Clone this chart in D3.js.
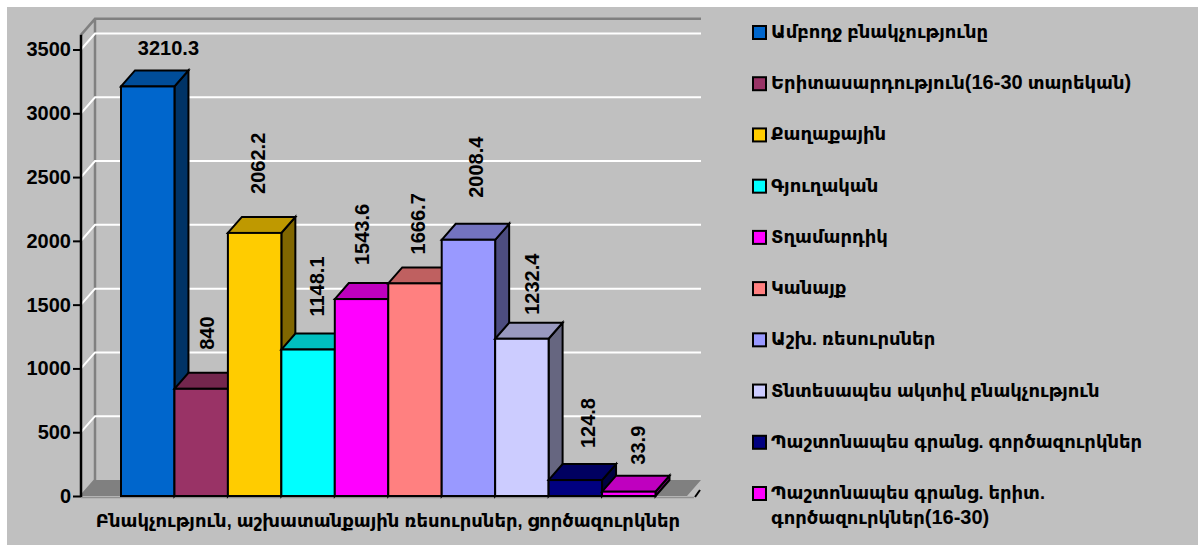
<!DOCTYPE html>
<html>
<head>
<meta charset="utf-8">
<script src="https://cdn.jsdelivr.net/npm/d3@7"></script>
<style>
  html,body{margin:0;padding:0;background:#fff;}
  svg{display:block;}
  text{font-family:"Liberation Sans","DejaVu Sans",sans-serif;font-weight:bold;fill:#000;}
</style>
</head>
<body>
<svg id="chart" width="1198" height="545"></svg>
<script>
const categories = ['Ամբողջ բնակչությունը','Երիտասարդություն(16-30 տարեկան)','Քաղաքային','Գյուղական','Տղամարդիկ','Կանայք','Աշխ. ռեսուրսներ','Տնտեսապես ակտիվ բնակչություն','Պաշտոնապես գրանց. գործազուրկներ','Պաշտոնապես գրանց. երիտ. գործազուրկներ(16-30)'];
const values = [3210.3,840,2062.2,1148.1,1543.6,1666.7,2008.4,1232.4,124.8,33.9];
const valueLabels = ['3210.3','840','2062.2','1148.1','1543.6','1666.7','2008.4','1232.4','124.8','33.9'];
const colors = ['#0066cc','#993366','#ffcc00','#00ffff','#ff00ff','#ff8080','#9999ff','#ccccff','#000080','#ff00ff'];
const tickValues = [0,500,1000,1500,2000,2500,3000,3500];
const axisTitle = 'Բնակչություն, աշխատանքային ռեսուրսներ, ցործազուրկներ';

const svg = d3.select('#chart');
const depthX = 14, depthY = -16;   // 3d offset of the back wall

const y = d3.scaleLinear().domain([0,3500]).range([496,49.5]);
const x = d3.scaleBand().domain(d3.range(values.length)).range([121,655.5]).padding(0);
const plotLeft = 81, plotRight = 687, plotTop = y(3615);
const shade = (c,k)=>{ const r=d3.rgb(c); return d3.rgb(r.r*k,r.g*k,r.b*k).formatHex(); };
const poly = pts=>pts.map(p=>p.join(',')).join(' ');

svg.append('rect').attr('x',7).attr('y',7).attr('width',1191).attr('height',538).attr('fill','#c0c0c0');

// floor
svg.append('polygon')
  .attr('points',poly([[plotLeft,y(0)],[plotLeft+depthX,y(0)+depthY],[plotRight+depthX,y(0)+depthY],[plotRight,y(0)]]))
  .attr('fill','#808080');

// walls
svg.append('path')
  .attr('d',`M${plotLeft},${plotTop}L${plotLeft+depthX},${plotTop+depthY}H${plotRight+depthX}M${plotLeft+depthX},${plotTop+depthY}V${y(0)+depthY}L${plotLeft},${y(0)}`)
  .attr('fill','none').attr('stroke','#808080').attr('stroke-width',2.5);
svg.append('line')
  .attr('x1',plotLeft).attr('x2',plotRight+7).attr('y1',y(0)+1.5).attr('y2',y(0)+1.5)
  .attr('stroke','#909090').attr('stroke-width',1.5);

// gridlines
svg.selectAll('.grid').data(tickValues.slice(1)).join('path')
  .attr('class','grid')
  .attr('d',d=>`M${plotLeft},${y(d)}L${plotLeft+depthX},${y(d)+depthY}H${plotRight+depthX}`)
  .attr('fill','none').attr('stroke','#fff').attr('stroke-width',2);

// bars, drawn left to right so the next bar covers the previous side
const bars = svg.selectAll('.bar').data(values).join('g').attr('class','bar');
bars.append('polygon')
  .attr('points',(d,i)=>{
    const x1=x(i)+x.bandwidth();
    return poly([[x1,y(d)],[x1+depthX,y(d)+depthY],[x1+depthX,y(0)+depthY],[x1,y(0)]]);
  })
  .attr('fill',(d,i)=>shade(colors[i],0.5));
bars.append('polygon')
  .attr('points',(d,i)=>{
    const x0=x(i), x1=x0+x.bandwidth();
    return poly([[x0,y(d)],[x0+depthX,y(d)+depthY],[x1+depthX,y(d)+depthY],[x1,y(d)]]);
  })
  .attr('fill',(d,i)=>shade(colors[i],0.75));
bars.append('rect')
  .attr('x',(d,i)=>x(i)).attr('y',d=>y(d))
  .attr('width',x.bandwidth()).attr('height',d=>y(0)-y(d))
  .attr('fill',(d,i)=>colors[i]);
bars.selectAll('polygon,rect').attr('stroke','#000').attr('stroke-width',2).attr('stroke-linejoin','miter');

// axis
const yAxis = d3.axisLeft(y).tickValues(tickValues).tickFormat(d3.format('d')).tickSize(8).tickPadding(2).tickSizeOuter(0);
const axisG = svg.append('g').attr('transform',`translate(${plotLeft},0)`).call(yAxis);
axisG.select('.domain').attr('stroke','#000').attr('stroke-width',2.5).attr('d',`M0,${plotTop}V${y(0)+1}`);
axisG.selectAll('.tick line').attr('stroke','#000').attr('stroke-width',2);
axisG.selectAll('.tick text').style('font-size','20px').style('font-family','"Liberation Sans",sans-serif').style('font-weight','bold');

svg.append('line').attr('x1',plotRight+8).attr('y1',y(0)+1).attr('x2',plotRight+13).attr('y2',y(0)-6)
  .attr('stroke','#000').attr('stroke-width',2);

// value labels, placed by hand in the original so nudged per bar
const labelNudge = [[-6,-22],[-21,-23],[-23,-23],[-18,-17],[-26,-18],[-24,-13],[-19,-26],[-17,-8],[-14,-16],[-18,-11]];
svg.selectAll('.vlabel').data(values).join('text')
  .attr('class','vlabel')
  .attr('transform',(d,i)=>{
    const cx=x(i)+x.bandwidth()+labelNudge[i][0], by=y(d)+depthY+labelNudge[i][1];
    return i===0 ? `translate(${cx},${by})` : `translate(${cx},${by}) rotate(-90)`;
  })
  .attr('text-anchor',(d,i)=>i===0?'middle':'start')
  .attr('dy','0.35em')
  .style('font-size','20px')
  .text((d,i)=>valueLabels[i]);

svg.append('text')
  .attr('x',388).attr('y',527).attr('text-anchor','middle')
  .style('font-size','18px').text(axisTitle);

// legend, digits and brackets run larger than the armenian glyphs here
const legendText = (g,str,ly)=>{
  const t=g.append('text').attr('x',771).attr('y',ly).style('font-size','18px');
  str.split(/([0-9()\-]+)/).forEach(part=>{
    if(!part) return;
    t.append('tspan').style('font-size',/^[0-9()\-]+$/.test(part)?'20px':null).text(part);
  });
};
const legendY = d3.scalePoint().domain(d3.range(categories.length)).range([32,493]);
const legend = svg.selectAll('.leg').data(categories).join('g')
  .attr('class','leg').attr('transform',(d,i)=>`translate(0,${legendY(i)})`);
legend.append('rect').attr('x',753).attr('y',-6).attr('width',13).attr('height',13)
  .attr('fill',(d,i)=>colors[i]).attr('stroke','#000').attr('stroke-width',2);
legend.each(function(d,i){
  const g=d3.select(this);
  if(i===categories.length-1){
    legendText(g,'Պաշտոնապես գրանց. երիտ.',6);
    legendText(g,'գործազուրկներ(16-30)',31);
  } else {
    legendText(g,d,6);
  }
});
</script>
</body>
</html>
